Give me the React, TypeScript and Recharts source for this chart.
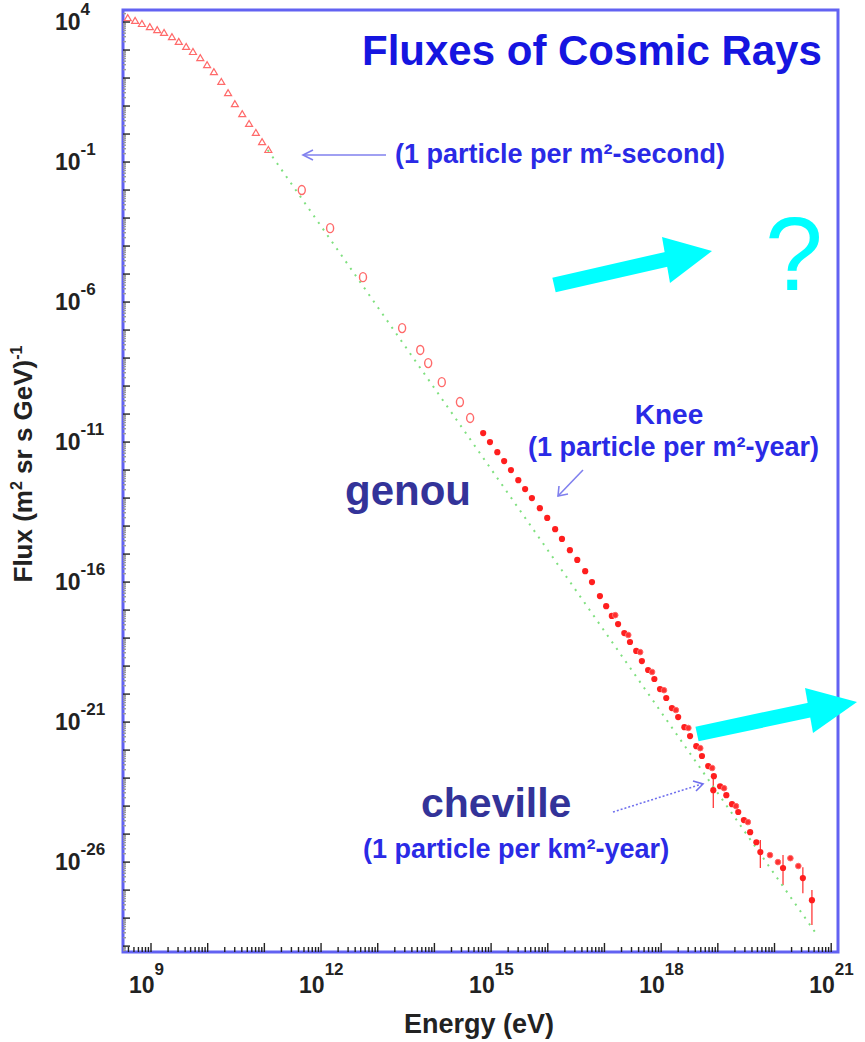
import React from "react";
import { ScatterChart, Scatter, XAxis, YAxis, ErrorBar, ReferenceArea } from "recharts";

const WIDTH = 865;
const HEIGHT = 1042;
const FONT = "'Liberation Sans', Arial, Helvetica, sans-serif";

// all values are log10: energy in eV, flux in (m^2 sr s GeV)^-1
const directLogE = [8.59, 8.72, 8.84, 8.98, 9.11, 9.23, 9.37, 9.49, 9.62, 9.74, 9.87, 9.99, 10.11, 10.24, 10.36, 10.48, 10.61, 10.73, 10.85, 10.96, 11.07];
const directLogF = [4.14, 4.04, 3.93, 3.82, 3.71, 3.61, 3.46, 3.29, 3.11, 2.93, 2.71, 2.46, 2.21, 1.86, 1.46, 1.07, 0.71, 0.36, 0.04, -0.29, -0.57];

const balloonLogE = [11.66, 12.16, 12.74, 13.43, 13.75, 13.89, 14.13, 14.45, 14.63];
const balloonLogF = [-2.0, -3.36, -5.11, -6.93, -7.71, -8.18, -8.86, -9.57, -10.14];

const showerLogE = [14.86, 14.98, 15.11, 15.23, 15.35, 15.48, 15.6, 15.72, 15.86, 15.99, 16.13, 16.25, 16.39, 16.52, 16.66, 16.78, 16.92, 17.03, 17.13, 17.24, 17.35, 17.45, 17.56, 17.66, 17.77, 17.88, 17.98, 18.09, 18.19, 18.3, 18.41, 18.51, 18.62, 18.72, 18.83, 18.93, 19.04, 19.15, 19.25, 19.36, 19.46, 19.57, 19.68];
const showerLogF = [-10.68, -11.0, -11.36, -11.68, -12.0, -12.36, -12.68, -13.0, -13.36, -13.71, -14.11, -14.46, -14.86, -15.21, -15.61, -16.0, -16.5, -16.86, -17.21, -17.5, -17.82, -18.14, -18.46, -18.82, -19.14, -19.46, -19.82, -20.14, -20.5, -20.82, -21.18, -21.5, -21.86, -22.21, -22.57, -22.93, -23.29, -23.61, -23.93, -24.21, -24.5, -24.93, -25.29];

const arrayLogE = [17.19, 17.42, 17.63, 17.84, 18.05, 18.26, 18.48, 18.69, 18.9, 19.11, 19.32, 19.53, 19.92, 20.06, 20.28, 20.42];
const arrayLogF = [-17.18, -17.89, -18.5, -19.21, -19.86, -20.57, -21.21, -21.93, -22.64, -23.36, -24.0, -24.57, -25.75, -26.0, -25.86, -26.14];

const uheLogE = [18.92, 19.75, 20.15, 20.5, 20.66];
const uheLogF = [-23.43, -25.64, -26.21, -26.57, -27.36];
const uheLogHi = [-22.89, -25.21, -25.75, -26.18, -27.0];
const uheLogLo = [-24.07, -26.21, -26.82, -27.11, -28.25];

// E^-2.7 reference power law
const powerLawLogE = [11.06, 20.75];
const powerLawLogF = [-0.57, -28.6];

const xLabelExp = [9, 12, 15, 18, 21];
const yLabelExp = [4, -1, -6, -11, -16, -21, -26];

const X_MIN = 10 ** 8.506;
const X_MAX = 10 ** 21.12;
const Y_MIN = 10 ** -29.21;
const Y_MAX = 10 ** 4.43;

const toPoints = (le: number[], lf: number[]) => le.map((e, i) => ({ e: 10 ** e, f: 10 ** lf[i] }));

const directData = toPoints(directLogE, directLogF);
const balloonData = toPoints(balloonLogE, balloonLogF);
const showerData = toPoints(showerLogE, showerLogF);
const arrayData = toPoints(arrayLogE, arrayLogF);
const powerLawData = toPoints(powerLawLogE, powerLawLogF);
const uheData = uheLogE.map((e, i) => {
  const f = 10 ** uheLogF[i];
  return { e: 10 ** e, f, err: [f - 10 ** uheLogLo[i], 10 ** uheLogHi[i] - f] };
});

const logTicks = (from: number, to: number, min: number, max: number, minors: boolean) => {
  const out: number[] = [];
  for (let n = from; n <= to; n++) {
    const ks = minors ? [1, 2, 3, 4, 5, 6, 7, 8, 9] : [1];
    ks.forEach((k) => {
      const v = k * 10 ** n;
      if (v >= min && v <= max) out.push(v);
    });
  }
  return out;
};

const xTicks = logTicks(8, 21, X_MIN, X_MAX, true);
const yTicks = logTicks(-30, 4, Y_MIN, Y_MAX, true);

const decadeOf = (v: number) => {
  const n = Math.round(Math.log10(v));
  return Math.abs(v - 10 ** n) / v < 1e-6 ? n : null;
};

const XTick = (props: any) => {
  const { x, y, payload } = props;
  const n = decadeOf(payload.value);
  const len = n !== null ? 9 : 5;
  return (
    <g>
      <line x1={x} x2={x} y1={y} y2={y - len} stroke="#222" strokeWidth={1.4} />
      {n !== null && xLabelExp.includes(n) && (
        <text x={x - 22} y={y + 41} fontFamily={FONT} fontWeight="bold" fontSize={23} fill="#222">
          10
          <tspan dy={-18} fontSize={17}>{n}</tspan>
        </text>
      )}
    </g>
  );
};

const YTick = (props: any) => {
  const { x, y, payload } = props;
  const n = decadeOf(payload.value);
  const len = n !== null ? 7 : 3;
  return (
    <g>
      <line x1={x} x2={x + len} y1={y} y2={y} stroke={n !== null ? "#222" : "#999"} strokeWidth={1.4} />
      {n !== null && yLabelExp.includes(n) && (
        <text x={55} y={y + 8} fontFamily={FONT} fontWeight="bold" fontSize={23} fill="#222">
          10
          <tspan dy={-15} fontSize={17}>{n}</tspan>
        </text>
      )}
    </g>
  );
};

const OpenTriangle = (p: any) => (
  <polygon
    points={`${p.cx},${p.cy - 3.5} ${p.cx - 3.5},${p.cy + 2.5} ${p.cx + 3.5},${p.cy + 2.5}`}
    fill="none"
    stroke="#ff6a6a"
    strokeWidth={1.2}
  />
);

const OpenOval = (p: any) => (
  <ellipse cx={p.cx} cy={p.cy} rx={3.5} ry={4.5} fill="none" stroke="#ff6a6a" strokeWidth={1.4} />
);

const Dot = (p: any) => <circle cx={p.cx} cy={p.cy} r={3.1} fill="#ff1e1e" />;

const ArrayDot = (p: any) => <circle cx={p.cx} cy={p.cy} r={2.8} fill="#ff3030" stroke="#ff6a6a" strokeWidth={1} />;

const NoMark = () => <g />;

const Annotations = () => (
  <svg width={WIDTH} height={HEIGHT} style={{ position: "absolute", left: 0, top: 0, pointerEvents: "none" }}>
    <text x={362} y={65} fontFamily={FONT} fontWeight="bold" fontSize={42} fill="#1515e0">
      Fluxes of Cosmic Rays
    </text>

    <text x={395} y={163} fontFamily={FONT} fontWeight="bold" fontSize={27} fill="#2a2ae6">
      (1 particle per m²-second)
    </text>
    <line x1={386} y1={155} x2={303} y2={155} stroke="#8080ee" strokeWidth={1.6} />
    <polyline points="313,150 303,155 313,160" fill="none" stroke="#8080ee" strokeWidth={1.6} />

    <text x={669} y={424} textAnchor="middle" fontFamily={FONT} fontWeight="bold" fontSize={28} fill="#2a2ae6">
      Knee
    </text>
    <text x={528} y={456} fontFamily={FONT} fontWeight="bold" fontSize={27} fill="#2a2ae6">
      (1 particle per m²-year)
    </text>
    <line x1={583} y1={470} x2={558} y2={496} stroke="#8080ee" strokeWidth={1.6} />
    <polyline points="559,486 558,496 568,494" fill="none" stroke="#8080ee" strokeWidth={1.6} />

    <text x={345} y={505} fontFamily={FONT} fontWeight="bold" fontSize={42} fill="#333399">
      genou
    </text>

    <text x={421} y={817} fontFamily={FONT} fontWeight="bold" fontSize={41} fill="#333399">
      cheville
    </text>
    <text x={363} y={858} fontFamily={FONT} fontWeight="bold" fontSize={27} fill="#2a2ae6">
      (1 particle per km²-year)
    </text>
    <line x1={613} y1={812} x2={702} y2={784} stroke="#7070ee" strokeWidth={1.6} strokeDasharray="2 2" />
    <polyline points="693,781 703,784 696,791" fill="none" stroke="#7070ee" strokeWidth={1.6} />

    {/* cyan arrows towards the unknown high-energy end */}
    <line x1={554} y1={285} x2={668} y2={259} stroke="#00ffff" strokeWidth={15} />
    <polygon points="662,237 712,251 670,283" fill="#00ffff" />
    <text x={765} y={290} fontFamily={FONT} fontSize={104} fill="#00ffff">
      ?
    </text>
    <line x1={697} y1={734} x2={810} y2={710} stroke="#00ffff" strokeWidth={15} />
    <polygon points="805,688 857,702 813,733" fill="#00ffff" />

    <text x={479} y={1033} textAnchor="middle" fontFamily={FONT} fontWeight="bold" fontSize={27} fill="#222">
      Energy (eV)
    </text>
    <text
      transform="translate(32, 464) rotate(-90)"
      textAnchor="middle"
      fontFamily={FONT}
      fontWeight="bold"
      fontSize={26}
      fill="#222"
    >
      Flux (m
      <tspan dy={-10} fontSize={16}>2</tspan>
      <tspan dy={10}> sr s GeV)</tspan>
      <tspan dy={-10} fontSize={16}>-1</tspan>
    </text>
  </svg>
);

export default function App() {
  return (
    <div style={{ position: "absolute", left: 0, top: 0, width: WIDTH, height: HEIGHT, background: "#fff" }}>
      <ScatterChart width={WIDTH} height={HEIGHT} margin={{ top: 10, right: 27, bottom: 0, left: 0 }}>
        <XAxis
          type="number"
          dataKey="e"
          scale="log"
          domain={[X_MIN, X_MAX]}
          allowDataOverflow
          ticks={xTicks}
          interval={0}
          tick={<XTick />}
          tickLine={false}
          tickSize={0}
          tickMargin={0}
          axisLine={false}
          height={90}
        />
        <YAxis
          type="number"
          dataKey="f"
          scale="log"
          domain={[Y_MIN, Y_MAX]}
          allowDataOverflow
          ticks={yTicks}
          interval={0}
          tick={<YTick />}
          tickLine={false}
          tickSize={0}
          tickMargin={0}
          axisLine={false}
          width={123}
        />
        <ReferenceArea x1={X_MIN} x2={X_MAX} y1={Y_MIN} y2={Y_MAX} fill="none" stroke="#6262f2" strokeWidth={3} />
        <Scatter
          data={powerLawData}
          shape={NoMark}
          line={{ stroke: "#7fe07f", strokeWidth: 2, strokeDasharray: "2 6" }}
          isAnimationActive={false}
        />
        <Scatter data={directData} shape={OpenTriangle} isAnimationActive={false} />
        <Scatter data={balloonData} shape={OpenOval} isAnimationActive={false} />
        <Scatter data={showerData} shape={Dot} isAnimationActive={false} />
        <Scatter data={arrayData} shape={ArrayDot} isAnimationActive={false} />
        <Scatter data={uheData} shape={Dot} isAnimationActive={false}>
          <ErrorBar dataKey="err" direction="y" width={0} stroke="#ff3a3a" strokeWidth={1.3} />
        </Scatter>
      </ScatterChart>
      <Annotations />
    </div>
  );
}
